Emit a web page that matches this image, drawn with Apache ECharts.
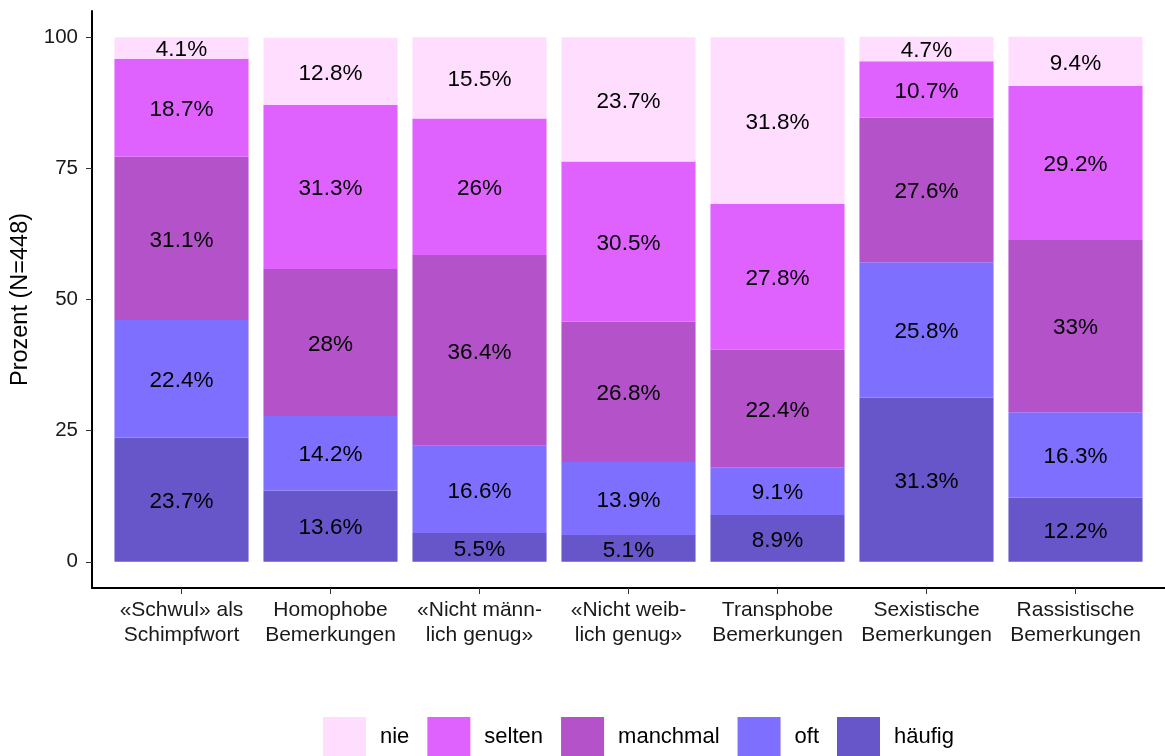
<!DOCTYPE html>
<html><head><meta charset="utf-8">
<script src="https://cdn.jsdelivr.net/npm/echarts@6/dist/echarts.min.js"></script>
<style>html,body{margin:0;padding:0;background:#fff}#c{width:1165px;height:756px}</style>
</head><body><div id="c"></div>
<script>
var categories = ['«Schwul» als\nSchimpfwort','Homophobe\nBemerkungen','«Nicht männ-\nlich genug»','«Nicht weib-\nlich genug»','Transphobe\nBemerkungen','Sexistische\nBemerkungen','Rassistische\nBemerkungen'];
var haeufig  = [23.7, 13.6, 5.5, 5.1, 8.9, 31.3, 12.2];
var oft      = [22.4, 14.2, 16.6, 13.9, 9.1, 25.8, 16.3];
var manchmal = [31.1, 28, 36.4, 26.8, 22.4, 27.6, 33];
var selten   = [18.7, 31.3, 26, 30.5, 27.8, 10.7, 29.2];
var nie      = [4.1, 12.8, 15.5, 23.7, 31.8, 4.7, 9.4];
var yTicks = [0, 25, 50, 75, 100];
var legendOrder = ['nie','selten','manchmal','oft','häufig'];

var colors = {'häufig':'#6656C9','oft':'#7F6FFF','manchmal':'#B352C9','selten':'#DF62FF','nie':'#FFDDFF'};
var font = 'Liberation Sans, Arial, sans-serif';
function mk(name, data){
  return {name:name, type:'bar', stack:'s', xAxisIndex:1, yAxisIndex:1, barWidth:'90%',
    data:data, itemStyle:{color:colors[name]},
    label:{show:true, position:'inside', offset:[0,2], color:'#000', fontSize:22.5, fontFamily:font,
      formatter:function(p){return p.value+'%';}},
    emphasis:{disabled:true}};
}
var chart = echarts.init(document.getElementById('c'));
chart.setOption({
  animation:false,
  textStyle:{fontFamily:font},
  grid:[{left:92, right:0, top:11, bottom:168, outerBoundsMode:'none', containLabel:false},
        {left:107, right:15, top:11, bottom:168, outerBoundsMode:'none', containLabel:false}],
  xAxis:[
    {type:'value', gridIndex:0, min:0.4, max:7.6, axisLine:{show:true, onZero:false, lineStyle:{color:'#000', width:2}},
     axisTick:{show:false}, axisLabel:{show:false}, splitLine:{show:false}},
    {type:'category', gridIndex:1, data:categories, axisLine:{show:false, onZero:false},
     axisTick:{show:true, alignWithLabel:true, length:6, lineStyle:{color:'#333'}},
     axisLabel:{color:'#1a1a1a', fontSize:21, fontFamily:font, margin:10, lineHeight:25, interval:0}}
  ],
  yAxis:[
    {type:'value', gridIndex:0, min:-5, max:105, axisLine:{show:true, lineStyle:{color:'#000', width:2}},
     axisTick:{show:true, length:6, customValues:yTicks, lineStyle:{color:'#333'}},
     axisLabel:{customValues:yTicks, color:'#1a1a1a', fontSize:20.5, fontFamily:font, margin:14},
     splitLine:{show:false},
     name:'Prozent (N=448)', nameLocation:'middle', nameGap:59, nameRotate:90,
     nameTextStyle:{color:'#000', fontSize:23.5, fontFamily:font}},
    {type:'value', gridIndex:1, min:-5, max:105, show:false, splitLine:{show:false}}
  ],
  legend:{data:legendOrder, left:323, top:717, padding:0, itemWidth:43, itemHeight:40, itemGap:18, icon:'rect',
    textStyle:{fontSize:22, color:'#000', fontFamily:font, padding:[0,0,0,9]}},
  series:[mk('häufig',haeufig), mk('oft',oft), mk('manchmal',manchmal), mk('selten',selten), mk('nie',nie)]
});
</script></body></html>
